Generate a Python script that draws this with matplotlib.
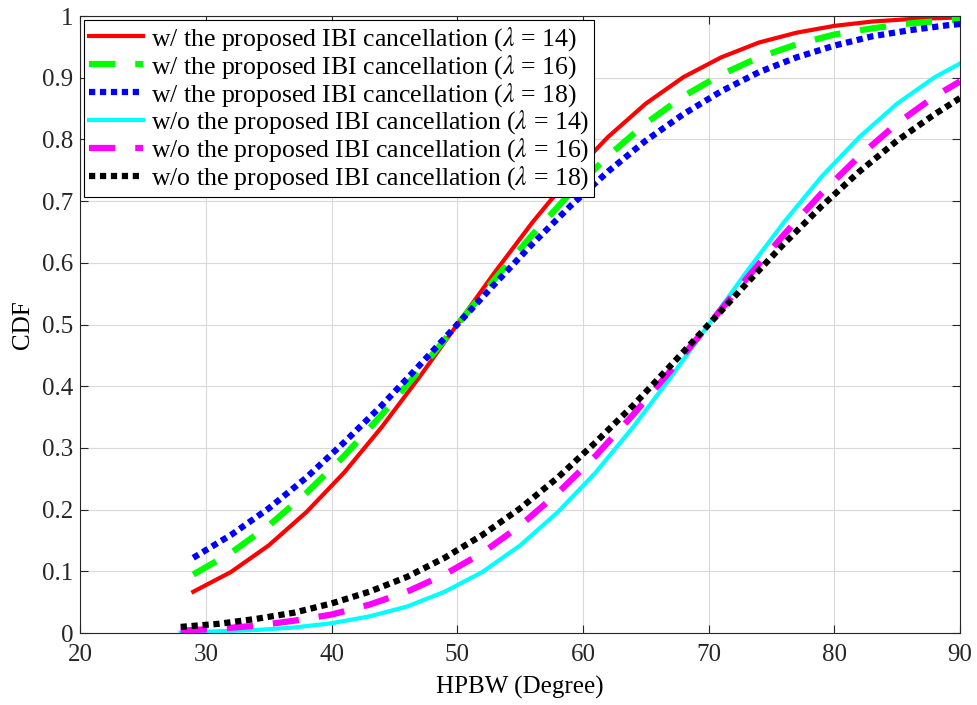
''' CDF of HPBW with / without the proposed IBI cancellation '''

import matplotlib
matplotlib.use('Agg')
import matplotlib.pyplot as plt

plt.rcParams['font.family'] = ['Liberation Serif', 'DejaVu Serif']
plt.rcParams['mathtext.fontset'] = 'stix'

# DATA
#*************

hpbw_with = [29, 32, 35, 38, 41, 44, 47, 50, 53, 56, 59, 62, 65, 68, 71, 74, 77, 80, 83, 86, 89, 90]
cdf_with_14 = [0.067, 0.099, 0.142, 0.196, 0.260, 0.334, 0.415, 0.500, 0.585, 0.666, 0.740, 0.804,
               0.858, 0.901, 0.933, 0.957, 0.973, 0.984, 0.991, 0.995, 0.997, 0.998]
cdf_with_16 = [0.095, 0.130, 0.174, 0.227, 0.287, 0.354, 0.426, 0.500, 0.574, 0.646, 0.713, 0.773,
               0.826, 0.870, 0.905, 0.933, 0.954, 0.970, 0.980, 0.988, 0.993, 0.994]
cdf_with_18 = [0.122, 0.159, 0.202, 0.252, 0.309, 0.369, 0.434, 0.500, 0.566, 0.631, 0.692, 0.748,
               0.798, 0.841, 0.878, 0.909, 0.933, 0.952, 0.967, 0.977, 0.985, 0.987]

hpbw_wo = [28, 31, 34, 37, 40, 43, 46, 49, 52, 55, 58, 61, 64, 67, 70, 73, 76, 79, 82, 85, 88, 90]
cdf_wo_14 = [0.001, 0.003, 0.005, 0.009, 0.016, 0.027, 0.043, 0.067, 0.099, 0.142, 0.196, 0.260,
             0.334, 0.415, 0.500, 0.585, 0.666, 0.740, 0.804, 0.858, 0.901, 0.923]
cdf_wo_16 = [0.004, 0.007, 0.012, 0.020, 0.030, 0.046, 0.067, 0.095, 0.130, 0.174, 0.227, 0.287,
             0.354, 0.426, 0.500, 0.574, 0.646, 0.713, 0.773, 0.826, 0.870, 0.894]
cdf_wo_18 = [0.010, 0.015, 0.023, 0.033, 0.048, 0.067, 0.091, 0.122, 0.159, 0.202, 0.252, 0.309,
             0.369, 0.434, 0.500, 0.566, 0.631, 0.692, 0.748, 0.798, 0.841, 0.867]

labels = ['w/ the proposed IBI cancellation ($\\lambda$ = 14)',
          'w/ the proposed IBI cancellation ($\\lambda$ = 16)',
          'w/ the proposed IBI cancellation ($\\lambda$ = 18)',
          'w/o the proposed IBI cancellation ($\\lambda$ = 14)',
          'w/o the proposed IBI cancellation ($\\lambda$ = 16)',
          'w/o the proposed IBI cancellation ($\\lambda$ = 18)']

# PLOT
#*************

fig = plt.figure(figsize=(9.77, 7.05), dpi=100)
ax = fig.add_axes([0.082, 0.102, 0.9006, 0.8753])

dash = (0, (4.2, 3.2))
dot = (0, (1.0, 0.75))

ax.plot(hpbw_with, cdf_with_14, color='red', lw=3, ls='-', label=labels[0])
ax.plot(hpbw_with, cdf_with_16, color='#00ff00', lw=4.5, ls=dash, label=labels[1])
ax.plot(hpbw_with, cdf_with_18, color='blue', lw=4.5, ls=dot, label=labels[2])
ax.plot(hpbw_wo, cdf_wo_14, color='cyan', lw=3, ls='-', label=labels[3])
ax.plot(hpbw_wo, cdf_wo_16, color='magenta', lw=4.5, ls=dash, label=labels[4])
ax.plot(hpbw_wo, cdf_wo_18, color='black', lw=4.5, ls=dot, label=labels[5])

ax.set_xlim(20, 90)
ax.set_ylim(0, 1)
ax.set_xticks(range(20, 91, 10))
yt = [i / 10 for i in range(11)]
ax.set_yticks(yt)
ax.set_yticklabels(['0' if v == 0 else ('1' if v == 1 else '%.1f' % v) for v in yt])
ax.tick_params(direction='in', labelsize=18, length=6, width=0.8, top=True, right=True,
               labeltop=False, labelright=False, colors='#262626')
ax.tick_params(axis='x', pad=8)
ax.tick_params(axis='y', pad=5)
ax.grid(True, color='#d9d9d9', lw=0.8)
ax.set_axisbelow(True)
for s in ax.spines.values():
    s.set_linewidth(0.8)
    s.set_color('#262626')

ax.set_xlabel('HPBW (Degree)', fontsize=18, labelpad=7)
ax.set_ylabel('CDF', fontsize=18, labelpad=6)

leg = ax.legend(loc='upper left', fontsize=18.5, fancybox=False, framealpha=1,
                edgecolor='black', handlelength=2.1, borderpad=0.2, labelspacing=0.0,
                handletextpad=0.3, borderaxespad=0.15)
leg.get_frame().set_linewidth(0.8)

plt.savefig('out.png', dpi=100)
